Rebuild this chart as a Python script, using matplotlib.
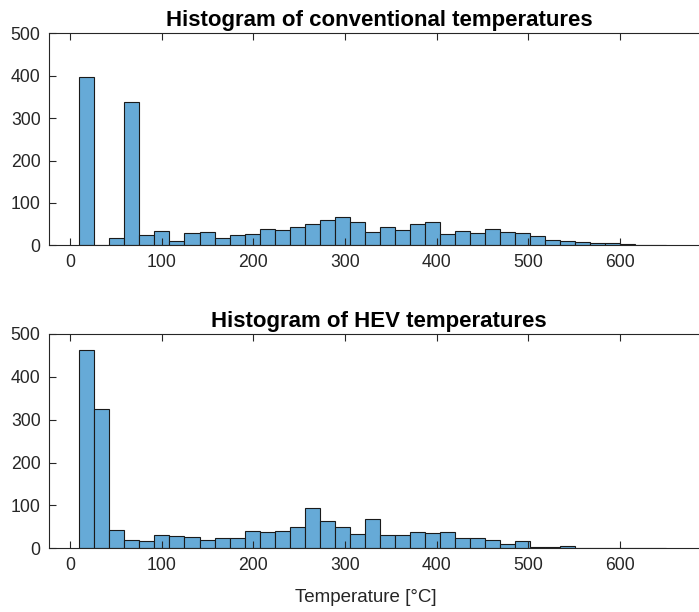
import numpy as np
import matplotlib
matplotlib.use("Agg")
import matplotlib.pyplot as plt

# Histogram bin definition
bin_start = 10.0
bin_width = 16.4

conventional_counts = [398, 0, 18, 337, 24, 34, 10, 29, 31, 17,
                       24, 27, 39, 35, 44, 51, 59, 67, 56, 31,
                       43, 35, 51, 54, 26, 34, 28, 39, 31, 29,
                       23, 13, 9, 7, 5, 6, 3, 1, 1]
hev_counts = [462, 325, 42, 19, 16, 31, 28, 26, 20, 25,
              25, 40, 38, 41, 50, 93, 64, 50, 34, 68,
              30, 30, 38, 36, 37, 23, 23, 19, 9, 16,
              3, 2, 6, 1, 0, 1, 0, 1, 0]

titles = ["Histogram of conventional temperatures", "Histogram of HEV temperatures"]
x_label = "Temperature [\u00b0C]"
x_ticks = [0, 100, 200, 300, 400, 500, 600]
y_ticks = [0, 100, 200, 300, 400, 500]

plt.rcParams['font.family'] = ['Liberation Sans', 'DejaVu Sans']
txt = '#262626'
face = (0.4, 0.668, 0.845)

fig = plt.figure(figsize=(6.99, 6.12), dpi=100)
W, H = 699, 612

def px_axes(l, t, r, b):
    return fig.add_axes([l / W, 1 - b / H, (r - l) / W, (b - t) / H])

ax1 = px_axes(49, 33.3, 709, 245.3)
ax2 = px_axes(49, 334, 709, 548.3)

for ax, counts, title in [(ax1, conventional_counts, titles[0]), (ax2, hev_counts, titles[1])]:
    counts = np.asarray(counts, dtype=float)
    edges = bin_start + bin_width * np.arange(len(counts) + 1)
    ax.bar(edges[:-1], counts, width=np.diff(edges), align='edge',
           color=face, edgecolor='#1a1a1a', linewidth=0.8)
    ax.set_xlim(-23, 697)
    ax.set_ylim(0, 500)
    ax.set_xticks(x_ticks)
    ax.set_yticks(y_ticks)
    ax.tick_params(direction='in', length=5, width=0.8, colors=txt,
                   labelsize=12.7, top=True, right=True, pad=6)
    for s in ax.spines.values():
        s.set_color(txt)
        s.set_linewidth(0.8)
    ax.set_title(title, fontsize=16, fontweight='bold', color='black', pad=5)

fig.text(366 / W, 1 - 598 / H, x_label, ha='center', va='center', fontsize=13.5, color=txt)

fig.savefig('out.png', dpi=100)
